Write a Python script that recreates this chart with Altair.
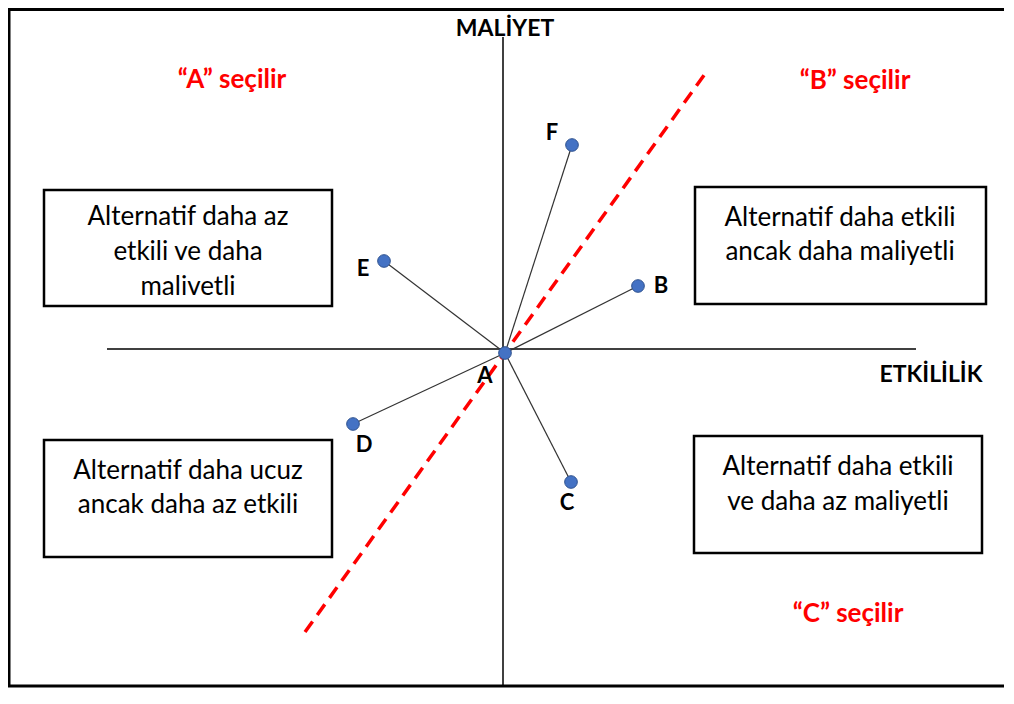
import altair as alt
import pandas as pd

# ---- data values (effectiveness, cost) relative to alternative A ----
point_names = ["A", "B", "C", "D", "E", "F"]
point_effect = [0.0, 13.3, 6.6, -15.2, -12.1, 6.7]
point_cost = [0.0, 6.7, -12.9, -7.1, 9.2, 20.8]

threshold_effect = [-20.0, 20.2]
threshold_cost = [-27.9, 28.2]

box_texts = [
    ["Alternatif daha az", "etkili ve daha", "malivetli"],
    ["Alternatif daha etkili", "ancak daha maliyetli"],
    ["Alternatif daha ucuz", "ancak daha az etkili"],
    ["Alternatif daha etkili", "ve daha az maliyetli"],
]
choice_texts = ["\u201cA\u201d seçilir", "\u201cB\u201d seçilir", "\u201cC\u201d seçilir"]
axis_names = ["MALİYET", "ETKİLİLİK"]

# ---- layout (positions in the same effectiveness/cost units) ----
label_offsets = {"A": (-2.0, -2.3), "B": (2.3, 0.0), "C": (-0.4, -2.1),
                 "D": (1.1, -2.1), "E": (-2.1, -0.8), "F": (-2.0, 1.2)}
box_rects = [(-46.1, -17.3, 16.3, 4.7), (19.0, 48.1, 16.6, 4.9),
             (-46.1, -17.3, -8.7, -20.4), (18.9, 47.7, -8.3, -20.0)]
box_text_pos = [(-31.7, [13.6, 10.1, 6.6]), (33.5, [13.5, 10.1]),
                (-31.7, [-11.8, -15.2]), (33.3, [-11.4, -14.9])]
choice_pos = [(-27.3, 27.3), (35.0, 27.2), (34.3, -26.1)]
axis_name_pos = [(0.0, 32.4), (42.6, -2.2)]
frame = (-49.6, 53.0, 34.35, -33.3)
h_axis = (-39.8, 41.1, 0.4)
v_axis = (-0.2, 31.6, -33.2)

XD = [-49.7, 49.9]
YD = [-33.5, 34.5]
FONT = "Lato"


def X(f="x"):
    return alt.X(f"{f}:Q", scale=alt.Scale(domain=XD, nice=False, zero=False), axis=None)


def Y(f="y"):
    return alt.Y(f"{f}:Q", scale=alt.Scale(domain=YD, nice=False, zero=False), axis=None)


pts = pd.DataFrame({"name": point_names, "x": point_effect, "y": point_cost})
pts["lx"] = [x + label_offsets[n][0] for n, x in zip(pts["name"], pts["x"])]
pts["ly"] = [y + label_offsets[n][1] for n, y in zip(pts["name"], pts["y"])]
a_x, a_y = point_effect[0], point_cost[0]
conn = pts[pts["name"] != "A"].assign(x2=a_x, y2=a_y)

frame_df = pd.DataFrame([{"x": frame[0], "x2": frame[1], "y": frame[2], "y2": frame[3]}])
boxes_df = pd.DataFrame([{"x": b[0], "x2": b[1], "y": b[2], "y2": b[3]} for b in box_rects])
axes_df = pd.DataFrame([
    {"x": h_axis[0], "x2": h_axis[1], "y": h_axis[2], "y2": h_axis[2]},
    {"x": v_axis[0], "x2": v_axis[0], "y": v_axis[1], "y2": v_axis[2]},
])
thr_df = pd.DataFrame({"x": threshold_effect, "y": threshold_cost})

btxt = []
for lines, (cx, ys) in zip(box_texts, box_text_pos):
    for t, yy in zip(lines, ys):
        btxt.append({"x": cx, "y": yy, "t": t})
btxt_df = pd.DataFrame(btxt)
choice_df = pd.DataFrame([{"x": p[0], "y": p[1], "t": t} for t, p in zip(choice_texts, choice_pos)])
axn_df = pd.DataFrame([{"x": p[0], "y": p[1], "t": t} for t, p in zip(axis_names, axis_name_pos)])

frame_l = alt.Chart(frame_df).mark_rect(fillOpacity=0, stroke="black", strokeWidth=3).encode(
    x=X(), x2="x2", y=Y(), y2="y2")
boxes_l = alt.Chart(boxes_df).mark_rect(fillOpacity=0, stroke="black", strokeWidth=2.5).encode(
    x=X(), x2="x2", y=Y(), y2="y2")
axes_l = alt.Chart(axes_df).mark_rule(color="black", strokeWidth=1.5).encode(
    x=X(), x2="x2", y=Y(), y2="y2")
thr_l = alt.Chart(thr_df).mark_line(color="#ff0000", strokeWidth=3.5, strokeDash=[13, 8]).encode(
    x=X(), y=Y())
conn_l = alt.Chart(conn).mark_rule(color="#333333", strokeWidth=1.2).encode(
    x=X(), x2="x2", y=Y(), y2="y2")
pts_l = alt.Chart(pts).mark_circle(size=160, opacity=1, color="#4472c4", stroke="#2f528f",
                                   strokeWidth=1).encode(x=X(), y=Y())
lab_l = alt.Chart(pts).mark_text(font=FONT, fontSize=22, fontWeight="bold", color="black",
                                 align="center", baseline="middle").encode(
    x=X("lx"), y=Y("ly"), text="name:N")
btxt_l = alt.Chart(btxt_df).mark_text(font=FONT, fontSize=26, color="black",
                                      align="center", baseline="middle").encode(
    x=X(), y=Y(), text="t:N")
choice_l = alt.Chart(choice_df).mark_text(font=FONT, fontSize=26, fontWeight="bold", color="#ff0000",
                                          align="center", baseline="middle").encode(
    x=X(), y=Y(), text="t:N")
axn_l = alt.Chart(axn_df).mark_text(font=FONT, fontSize=23, fontWeight="bold", color="black",
                                    align="center", baseline="middle").encode(
    x=X(), y=Y(), text="t:N")

chart = alt.layer(frame_l, boxes_l, axes_l, thr_l, conn_l, pts_l, lab_l, btxt_l, choice_l, axn_l).properties(
    width=996, height=680, padding=0,
    autosize=alt.AutoSizeParams(type="none"),
).configure_view(stroke=None)

chart.save("out.html", embed_options={"renderer": "svg", "actions": False})
